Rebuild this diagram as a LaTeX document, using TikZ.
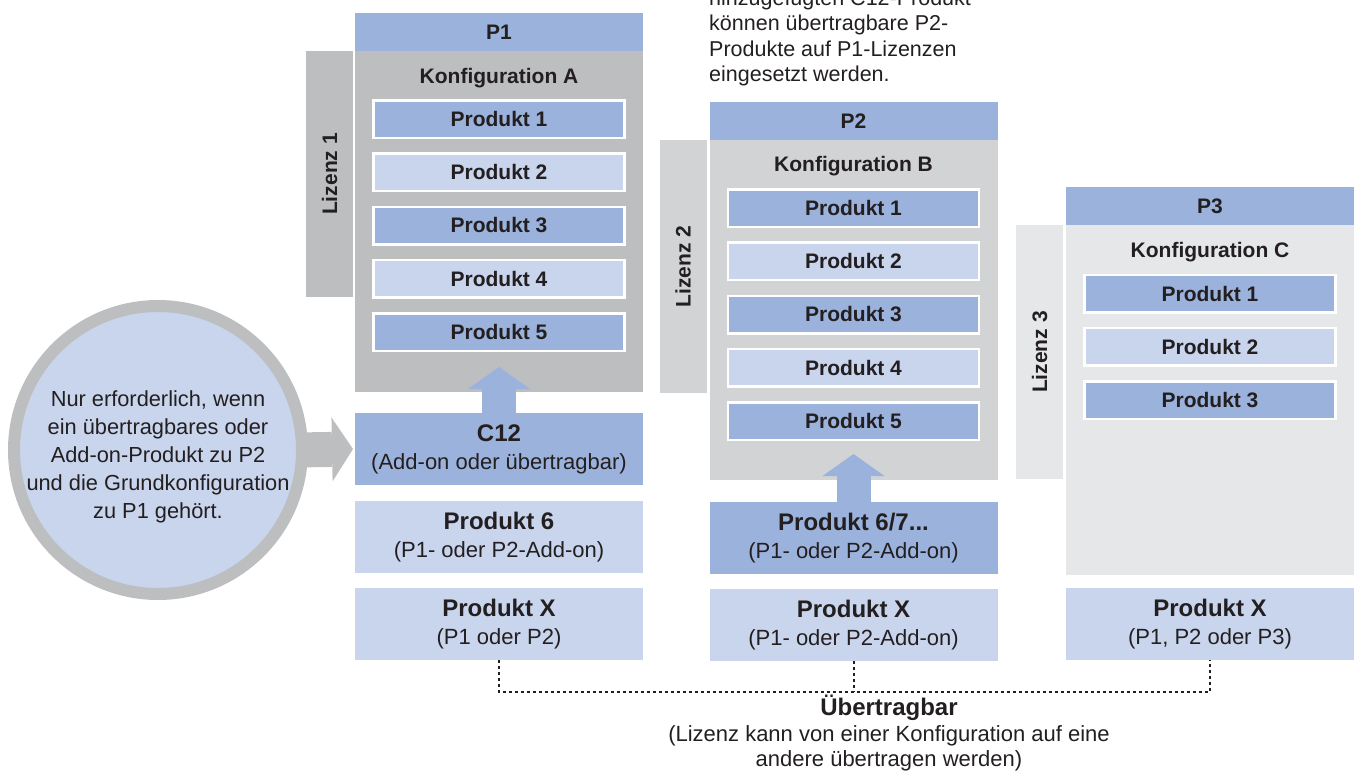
\documentclass[tikz,border=0pt]{standalone}
\usepackage{fontspec}
\setmainfont{Liberation Sans}
\usepackage{tikz}
\usetikzlibrary{positioning, calc, arrows.meta}
\definecolor{hblue}{RGB}{155,178,220}
\definecolor{lblue}{RGB}{201,213,237}
\definecolor{greyA}{RGB}{188,190,192}
\definecolor{greyB}{RGB}{209,211,212}
\definecolor{greyC}{RGB}{230,231,232}
\definecolor{ink}{RGB}{35,31,32}
\newcommand\lblfont{\fontsize{21}{25}\selectfont\bfseries}
\newcommand\txtfont{\fontsize{22}{28}\selectfont}
\newcommand\bigfont{\fontsize{24}{28}\selectfont\bfseries}
\tikzstyle{header} = [rectangle, fill=hblue, minimum width=288, minimum height=38, inner sep=0, outer sep=0, font=\lblfont]
\tikzstyle{config} = [rectangle, minimum width=288, inner sep=0, outer sep=0]
\tikzstyle{cfgtitle} = [inner sep=0, font=\lblfont]
\tikzstyle{prod} = [rectangle, draw=white, line width=2.5pt, minimum width=251, minimum height=37.5, inner sep=0, font=\lblfont]
\tikzstyle{dark} = [prod, fill=hblue]
\tikzstyle{light} = [prod, fill=lblue]
\tikzstyle{lic} = [rectangle, rotate=90, minimum height=47, inner sep=0, outer sep=0, anchor=south east, font=\lblfont]
\tikzstyle{extra} = [rectangle, minimum width=288, minimum height=72, inner sep=0, outer sep=0, align=center, font=\txtfont]
\tikzstyle{hintcircle} = [circle, draw=greyA, line width=12pt, fill=lblue, minimum size=288, inner sep=0]
\tikzstyle{uparrow} = [hblue, line width=34pt, -{Triangle[width=62pt, length=22pt, line width=0pt]}]
\tikzstyle{sidearrow} = [greyA, line width=35pt, -{Triangle[width=64pt, length=21pt, line width=0pt]}]
\tikzstyle{transfer} = [ink, line width=2pt, dash pattern=on 3pt off 3pt]
\begin{document}
\begin{tikzpicture}[x=1pt, y=-1pt, every node/.append style={text=ink}]
\useasboundingbox (0,0) rectangle (1354,776);
% P1
\node (p1) [header] at (499,32) {P1};
\node (cfgA) [config, fill=greyA, minimum height=341, below=0pt of p1] {};
\node (kA) [cfgtitle, anchor=base] at ([yshift=-32pt]p1.south) {Konfiguration A};
\node (a1) [dark, below=48pt of p1.south] {Produkt 1};
\node (a2) [light, below=13.25pt of a1] {Produkt 2};
\node (a3) [dark, below=13.25pt of a2] {Produkt 3};
\node (a4) [light, below=13.25pt of a3] {Produkt 4};
\node (a5) [dark, below=13.25pt of a4] {Produkt 5};
\node (l1) [lic, fill=greyA, minimum width=246] at ([xshift=-2pt]cfgA.north west) {Lizenz 1};
\node (c12) [extra, fill=hblue, below=21pt of cfgA] {{\bigfont C12}\\(Add-on oder übertragbar)};
\node (a6) [extra, fill=lblue, below=16pt of c12] {{\bigfont Produkt 6}\\(P1- oder P2-Add-on)};
\node (x1) [extra, fill=lblue, below=15pt of a6] {{\bigfont Produkt X}\\(P1 oder P2)};
% P2
\node (p2) [header] at (853.5,121) {P2};
\node (cfgB) [config, fill=greyB, minimum height=340, below=0pt of p2] {};
\node (kB) [cfgtitle, anchor=base] at ([yshift=-31pt]p2.south) {Konfiguration B};
\node (b1) [dark, below=48pt of p2.south] {Produkt 1};
\node (b2) [light, below=13.25pt of b1] {Produkt 2};
\node (b3) [dark, below=13.25pt of b2] {Produkt 3};
\node (b4) [light, below=13.25pt of b3] {Produkt 4};
\node (b5) [dark, below=13.25pt of b4] {Produkt 5};
\node (l2) [lic, fill=greyB, minimum width=253] at ([xshift=-3pt]cfgB.north west) {Lizenz 2};
\node (b67) [extra, fill=hblue, below=22pt of cfgB] {{\bigfont Produkt 6/7...}\\(P1- oder P2-Add-on)};
\node (x2) [extra, fill=lblue, below=15pt of b67] {{\bigfont Produkt X}\\(P1- oder P2-Add-on)};
% P3
\node (p3) [header] at (1210,206) {P3};
\node (cfgC) [config, fill=greyC, minimum height=350, below=0pt of p3] {};
\node (kC) [cfgtitle, anchor=base] at ([yshift=-32pt]p3.south) {Konfiguration C};
\node (c1) [dark, below=48.5pt of p3.south] {Produkt 1};
\node (c2) [light, below=13.25pt of c1] {Produkt 2};
\node (c3) [dark, below=13.25pt of c2] {Produkt 3};
\node (l3) [lic, fill=greyC, minimum width=254] at ([xshift=-3pt]cfgC.north west) {Lizenz 3};
\node (x3) [extra, fill=lblue, below=13pt of cfgC] {{\bigfont Produkt X}\\(P1, P2 oder P3)};
% Hinweise
\node (hint) [hintcircle] at (158,450) {};
\node (hinttext) [align=center, inner sep=0, font=\fontsize{21.8}{28}\selectfont] at ([yshift=-7pt]hint.center) {Nur erforderlich, wenn\\ein übertragbares oder\\Add-on-Produkt zu P2\\und die Grundkonfiguration\\zu P1 gehört.};
\node (note) [align=left, anchor=south west, inner sep=0, font=\fontsize{21.5}{25.5}\selectfont] at (709,86.5) {hinzugefügten C12-Produkt\\können übertragbare P2-\\Produkte auf P1-Lizenzen\\eingesetzt werden.};
\node (ueb) [align=center, anchor=south, inner sep=0, font=\fontsize{22}{25.5}\selectfont] at (889,771.6) {{\fontsize{24}{25.5}\selectfont\bfseries Übertragbar}\\(Lizenz kann von einer Konfiguration auf eine\\andere übertragen werden)};
\draw [uparrow, shorten >=-25pt] (c12.north) -- (c12.north |- cfgA.south);
\draw [uparrow, shorten >=-26pt] (b67.north) -- (b67.north |- cfgB.south);
\draw [sidearrow, shorten >=2pt] ([xshift=-10pt]hint.east) -- (c12.west);
\draw [transfer] (x1.south) -- ++(0,32) -| (x3.south);
\draw [transfer] (x2.south) -- ++(0,31);
\end{tikzpicture}
\end{document}
